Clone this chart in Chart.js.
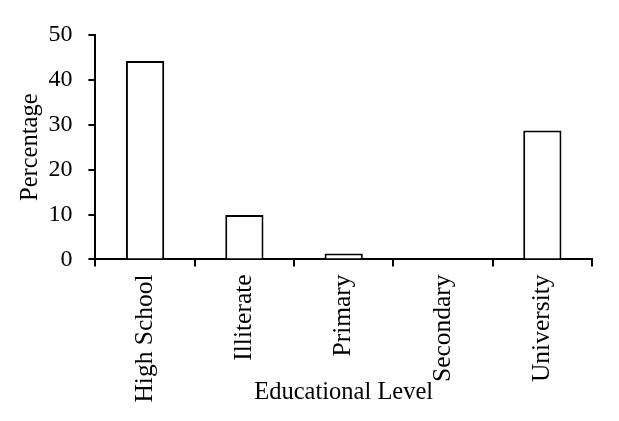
<!DOCTYPE html>
<html>
<head>
<meta charset="utf-8">
<script src="https://cdn.jsdelivr.net/npm/chart.js@4/dist/chart.umd.min.js"></script>
<style>
  html, body { margin: 0; padding: 0; background: #fff; }
  #wrap { width: 619px; height: 421px; }
</style>
</head>
<body>
<div id="wrap"><canvas id="eduChart"></canvas></div>
<script>
  // values
  const levels = ["High School", "Illiterate", "Primary", "Secondary", "University"];
  const percentages = [44.2, 9.9, 1.3, 0.3, 28.7];
  const yTicks = [0, 10, 20, 30, 40, 50];

  const serif = "'Liberation Serif', 'Times New Roman', serif";
  const ink = "#000";

  const ctx = document.getElementById("eduChart").getContext("2d");
  const eduChart = new Chart(ctx, {
    type: "bar",
    data: {
      labels: levels,
      datasets: [
        {
          data: percentages,
          backgroundColor: "#fff",
          borderColor: ink,
          borderWidth: 2,
          // very short bars get a full outline so they still show as a dark sliver
          borderSkipped: (c) => (c.raw < 1 ? false : "start"),
          barPercentage: 0.385,
          categoryPercentage: 1
        }
      ]
    },
    options: {
      responsive: true,
      maintainAspectRatio: false,
      animation: false,
      layout: {
        padding: { left: 10, right: 27, top: 35, bottom: 14 }
      },
      plugins: {
        legend: { display: false },
        tooltip: { enabled: false }
      },
      scales: {
        x: {
          border: { display: true, color: ink, width: 2 },
          grid: {
            offset: true,
            drawOnChartArea: false,
            drawTicks: true,
            tickLength: 7,
            color: ink,
            lineWidth: 2
          },
          ticks: {
            color: ink,
            font: { family: serif, size: 25.5 },
            minRotation: 90,
            maxRotation: 90,
            padding: 8,
            autoSkip: false
          },
          title: {
            display: true,
            text: "Educational Level",
            color: ink,
            font: { family: serif, size: 24.5 },
            padding: { top: -33, bottom: 0 }
          }
        },
        y: {
          min: 0,
          max: 50,
          afterBuildTicks: (scale) => {
            scale.ticks = yTicks.map((v) => ({ value: v }));
          },
          border: { display: true, color: ink, width: 2 },
          grid: {
            drawOnChartArea: false,
            drawTicks: true,
            tickLength: 7,
            color: ink,
            lineWidth: 2
          },
          ticks: {
            color: ink,
            font: { family: serif, size: 24 },
            padding: 16
          },
          title: {
            display: true,
            text: "Percentage",
            color: ink,
            font: { family: serif, size: 24.5 },
            padding: { top: 6, bottom: -13 }
          }
        }
      }
    }
  });
</script>
</body>
</html>
